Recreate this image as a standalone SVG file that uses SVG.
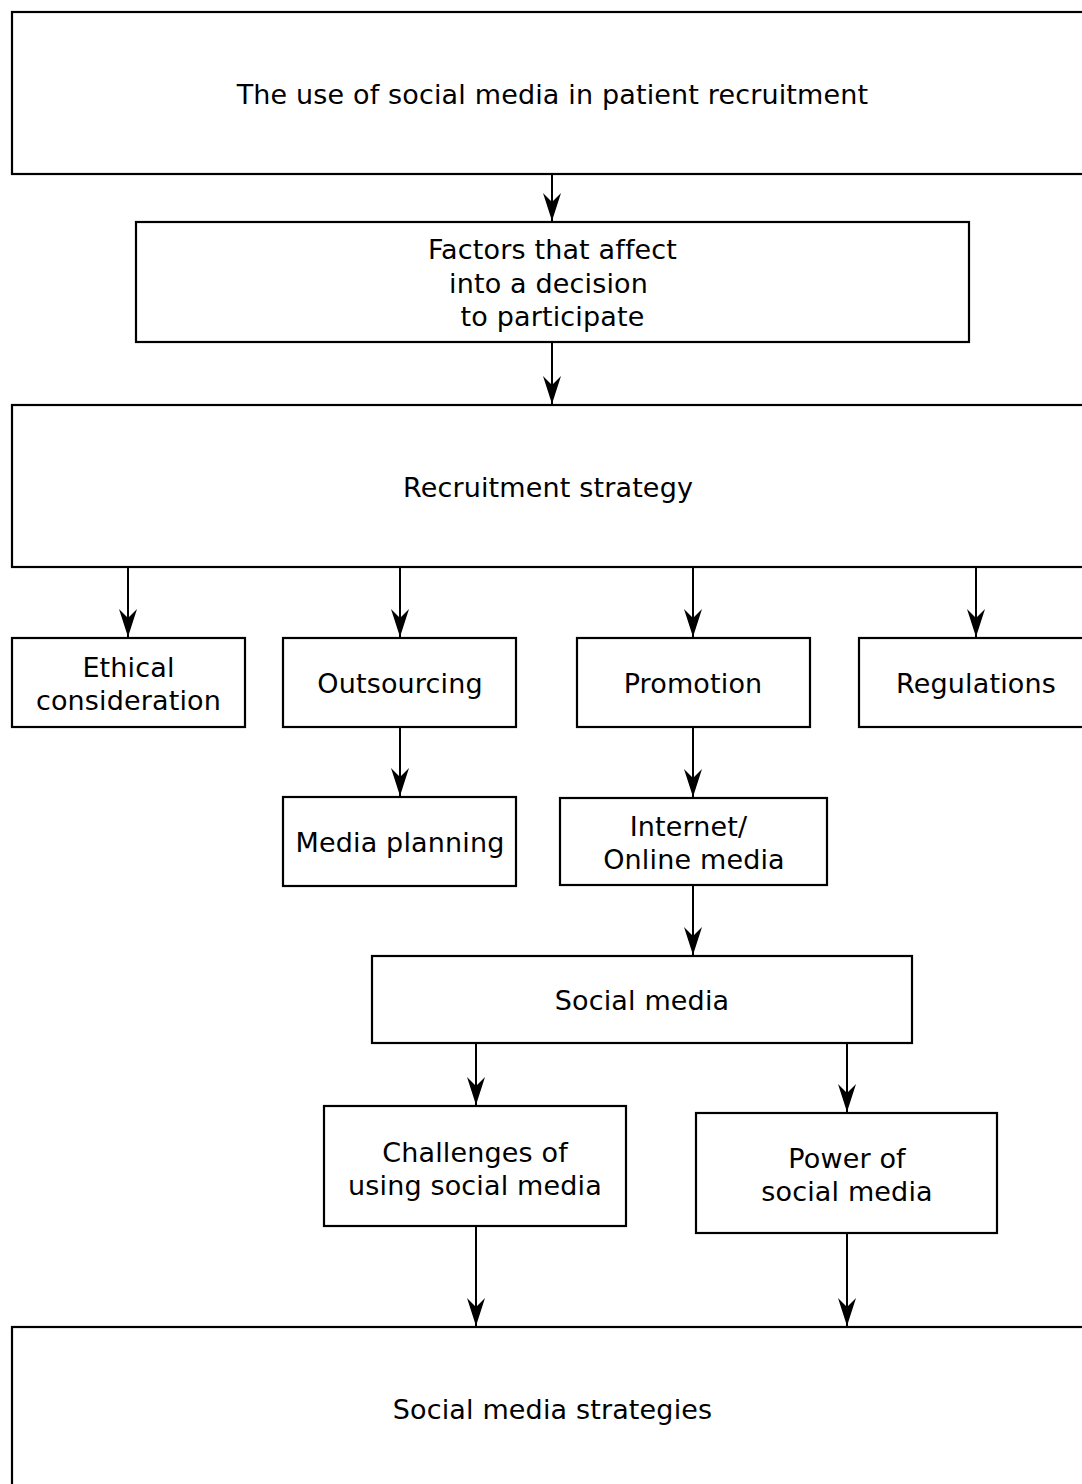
<svg xmlns="http://www.w3.org/2000/svg" width="1082" height="1484" viewBox="0 0 1082 1484">
<style>
  .box { fill: #ffffff; stroke: #000000; stroke-width: 2.2; }
  .lbl { font-family: "DejaVu Sans", "Liberation Sans", sans-serif; font-size: 27px; letter-spacing: 0.15px; fill: #000000; text-anchor: middle; }
  .edge { stroke: #000000; stroke-width: 2; fill: none; marker-end: url(#arrow); }
</style>
<defs>
  <marker id="arrow" markerUnits="userSpaceOnUse" viewBox="-29 -10 30 20" refX="0" refY="0" markerWidth="30" markerHeight="20" orient="auto">
    <path d="M0,0 L-28,-9 L-19,0 L-28,9 Z" fill="#000000"/>
  </marker>
</defs>
<rect width="1082" height="1484" fill="#ffffff"/>

<g id="connectors">
  <line class="edge" x1="552" y1="174" x2="552" y2="221"/>
  <line class="edge" x1="552" y1="342" x2="552" y2="404"/>
  <line class="edge" x1="128" y1="567" x2="128" y2="637"/>
  <line class="edge" x1="400" y1="567" x2="400" y2="637"/>
  <line class="edge" x1="693" y1="567" x2="693" y2="637"/>
  <line class="edge" x1="976" y1="567" x2="976" y2="637"/>
  <line class="edge" x1="400" y1="727" x2="400" y2="796"/>
  <line class="edge" x1="693" y1="727" x2="693" y2="797"/>
  <line class="edge" x1="693" y1="885" x2="693" y2="955"/>
  <line class="edge" x1="476" y1="1043" x2="476" y2="1105"/>
  <line class="edge" x1="847" y1="1043" x2="847" y2="1112"/>
  <line class="edge" x1="476" y1="1226" x2="476" y2="1326"/>
  <line class="edge" x1="847" y1="1233" x2="847" y2="1326"/>
</g>

<g id="n-use">
  <rect class="box" x="12" y="12" width="1081" height="162"/>
  <text class="lbl" x="552.5" y="104">The use of social media in patient recruitment</text>
</g>
<g id="n-factors">
  <rect class="box" x="136" y="222" width="833" height="120"/>
  <text class="lbl" x="552.5" y="259">Factors that affect</text>
  <text class="lbl" x="548.5" y="293">into a decision</text>
  <text class="lbl" x="552.5" y="326">to participate</text>
</g>
<g id="n-recruitment">
  <rect class="box" x="12" y="405" width="1081" height="162"/>
  <text class="lbl" x="548" y="497">Recruitment strategy</text>
</g>
<g id="n-ethical">
  <rect class="box" x="12" y="638" width="233" height="89"/>
  <text class="lbl" x="128.5" y="677">Ethical</text>
  <text class="lbl" x="128.5" y="710">consideration</text>
</g>
<g id="n-outsourcing">
  <rect class="box" x="283" y="638" width="233" height="89"/>
  <text class="lbl" x="400" y="693">Outsourcing</text>
</g>
<g id="n-promotion">
  <rect class="box" x="577" y="638" width="233" height="89"/>
  <text class="lbl" x="693" y="693">Promotion</text>
</g>
<g id="n-regulations">
  <rect class="box" x="859" y="638" width="234" height="89"/>
  <text class="lbl" x="976" y="693">Regulations</text>
</g>
<g id="n-media-planning">
  <rect class="box" x="283" y="797" width="233" height="89"/>
  <text class="lbl" x="400" y="852">Media planning</text>
</g>
<g id="n-internet">
  <rect class="box" x="560" y="798" width="267" height="87"/>
  <text class="lbl" x="688.5" y="836">Internet/</text>
  <text class="lbl" x="694" y="869">Online media</text>
</g>
<g id="n-social">
  <rect class="box" x="372" y="956" width="540" height="87"/>
  <text class="lbl" x="642" y="1010">Social media</text>
</g>
<g id="n-challenges">
  <rect class="box" x="324" y="1106" width="302" height="120"/>
  <text class="lbl" x="475" y="1162">Challenges of</text>
  <text class="lbl" x="475" y="1195">using social media</text>
</g>
<g id="n-power">
  <rect class="box" x="696" y="1113" width="301" height="120"/>
  <text class="lbl" x="847" y="1168">Power of</text>
  <text class="lbl" x="847" y="1201">social media</text>
</g>
<g id="n-strategies">
  <rect class="box" x="12" y="1327" width="1081" height="164"/>
  <text class="lbl" x="552.5" y="1419">Social media strategies</text>
</g>
</svg>
